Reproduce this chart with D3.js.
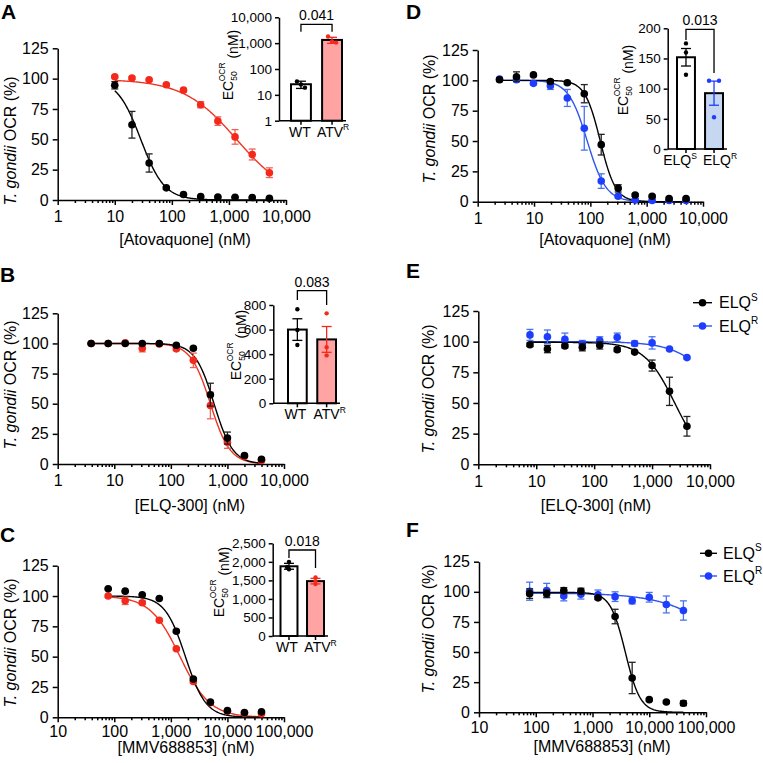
<!DOCTYPE html>
<html>
<head>
<meta charset="utf-8">
<script src="https://cdnjs.cloudflare.com/ajax/libs/d3/7.8.5/d3.min.js"></script>
<style>
body { margin: 0; background: #fff; }
svg text { font-family: Arial, "Liberation Sans", sans-serif; fill: #000; }
</style>
</head>
<body>
<script>
// ---- data ----
var yTicks = [0, 25, 50, 75, 100, 125];
var xTicks1 = [1, 10, 100, 1000, 10000];
var xTicks10 = [10, 100, 1000, 10000, 100000];

// A: atovaquone, WT vs ATV-R
var concA = [10, 20, 40, 80, 160, 320, 640, 1280, 2560, 5120];
var wtA = [94.5, 62, 30.5, 10, 4.5, 2.8, 2.5, 2.3, 2, 1.5];
var wtAerr = [3, 11, 7.5, 1, 1, 0.5, 0.5, 0.5, 0.5, 0.5];
var atvA = [101.5, 100.5, 99, 95, 90.5, 78.5, 65, 52, 37.5, 22.5];
var atvAerr = [1, 1, 1, 1, 1.5, 2.5, 3.5, 6, 4.5, 4];
var fitAwt = [100, 0, 28.5, 2.1];      // top, bottom, EC50, hill
var fitAatv = [99.5, 0, 1373, 0.93];

// B: ELQ-300, WT vs ATV-R
var concB = [3.9, 7.8, 15.6, 31.25, 62.5, 125, 250, 500, 1000, 2000, 4000];
var wtB = [100, 100, 100, 100, 100, 98.5, 96, 57.5, 21.5, 7, 4];
var wtBerr = [0.5, 0.5, 0.5, 0.5, 0.5, 1, 1, 9.5, 5, 1, 1];
var atvB = [100, 100, 100.5, 96, 99.5, 95.5, 86, 48.5, 18, 6.5, 3];
var atvBerr = [0.5, 0.5, 0.5, 3, 0.5, 1.5, 6, 11, 5, 1, 1];
var fitBwt = [100, 0, 580, 2.6];
var fitBatv = [100, 0, 500, 2.5];

// C: MMV688853, WT vs ATV-R
var concC = [78, 156, 312, 625, 1250, 2500, 5000, 10000, 20000, 40000];
var wtC = [106, 104, 101, 98, 71, 31.5, 12.5, 5.5, 4, 4.5];
var wtCerr = [0.5, 0.5, 0.5, 0.5, 1, 1, 1, 0.5, 0.5, 0.5];
var atvC = [100, 96, 94.5, 80, 56.5, 29.5, 12, 5, 3.5, 3];
var atvCerr = [1, 3, 1.5, 1, 1, 1.5, 1, 1, 1, 1];
var fitCwt = [100, 0, 1810, 2.4];
var fitCatv = [100, 0, 1453, 1.65];

// D: atovaquone, ELQ-S vs ELQ-R
var concD = [2.44, 4.88, 9.77, 19.5, 39, 78, 156, 312, 625, 1250, 2500, 5000];
var elqsD = [100.5, 103, 104.5, 99, 98, 89, 47, 11, 5.5, 4.5, 2.5, 2.5];
var elqsDerr = [1.5, 4, 1, 1.5, 1, 7.5, 8.5, 3, 1, 1, 1, 1];
var elqrD = [101, 100.5, 97.5, 95.5, 85.5, 60.5, 17, 4.5, 1.5, 1, 1, 1];
var elqrDerr = [1, 1.5, 1, 3, 7, 18, 6, 1.5, 1, 1, 0.5, 0.5];
var fitDs = [100, 0, 150, 3.2];
var fitDr = [100, 0, 88, 2.6];

// E: ELQ-300, ELQ-S vs ELQ-R
var concE = [7.8, 15.6, 31.25, 62.5, 125, 250, 500, 1000, 2000, 4000];
var elqsE = [97.5, 94, 96.5, 95.5, 97, 93.5, 91.5, 80.5, 59.5, 31];
var elqsEerr = [1.5, 3, 1.5, 3, 3, 1.5, 1, 4.5, 11.5, 8];
var elqrE = [105.5, 104, 102, 98, 101, 103.5, 98.5, 99, 94, 87];
var elqrEerr = [4.5, 5.5, 5, 3, 3, 3.5, 2, 5, 1, 1];
var fitEs = [99.5, 0, 2474, 1.65];
var fitEr = [100, 0, 19600, 1.2];

// F: MMV688853, ELQ-S vs ELQ-R
var concF = [78, 156, 312, 625, 1250, 2500, 5000, 10000, 20000, 40000];
var elqsF = [98.5, 98.5, 101, 100.5, 95, 79.5, 28.5, 10.5, 8.5, 7.5];
var elqsFerr = [4, 3, 2.5, 2.5, 1, 6, 13, 1, 1, 2];
var elqrF = [100.5, 101, 96.5, 98, 97.5, 96, 92.5, 95.5, 89.5, 84.5];
var elqrFerr = [7.5, 6, 4, 4, 4, 4, 2.5, 4, 7, 8];
var fitFs = [99.5, 0, 3793, 3.3];
var fitFr = [99, 0, 367000, 0.8];

// insets: EC50 OCR
var catsATV = [["WT", ""], ["ATV", "R"]];
var catsELQ = [["ELQ", "S"], ["ELQ", "R"]];
var ecAmean = [25.7, 1334];
var ecAsem = [8, 350];
var ecApts = [[33, 25, 19], [1800, 1150, 1050]];
var ecAticks = [1, 10, 100, 1000, 10000];
var ecBmean = [600, 520];
var ecBsem = [88, 105];
var ecBpts = [[765, 596, 474], [732, 456, 390]];
var ecBticks = [0, 200, 400, 600, 800];
var ecCmean = [1880, 1480];
var ecCsem = [80, 75];
var ecCpts = [[2000, 1860, 1800], [1580, 1480, 1400]];
var ecCticks = [0, 500, 1000, 1500, 2000, 2500];
var ecDmean = [152, 92.5];
var ecDsem = [14.5, 20];
var ecDpts = [[175, 160, 123], [113, 113, 52.5]];
var ecDticks = [0, 50, 100, 150, 200];
var pA = "0.041", pB = "0.083", pC = "0.018", pD = "0.013";

// ---- styling ----
var black = "#000000";
var red = { dot: "#f5291b", line: "#ee3522", err: "#ef6357", bar: "#ffa3a3" };
var blue = { dot: "#1e3dff", line: "#2c55ee", err: "#4a74ea", bar: "#c6d7f2" };
var blk = { dot: black, line: black, err: "#222", bar: "#ffffff" };

var svg = d3.select("body").append("svg").attr("width", 763).attr("height", 763);
var fmt = d3.format(",");

function hill(p, c) { return p[1] + (p[0] - p[1]) / (1 + Math.pow(c / p[2], p[3])); }

function supText(sel, base, sup, supSize) {
  sel.text(null);
  sel.append("tspan").text(base);
  if (sup) sel.append("tspan").attr("font-size", supSize).attr("dy", "-0.75em").text(sup);
}

function drawDose(p) {
  var g = svg.append("g");
  var x = d3.scaleLog().domain(p.xDomain).range(p.xRange);
  var y = d3.scaleLinear().domain([0, 125]).range(p.yRange);

  // axes
  var xa = g.append("g").attr("transform", "translate(0," + p.yRange[0] + ")")
    .call(d3.axisBottom(x).tickValues(p.xTicks).tickFormat(fmt).tickSizeInner(5).tickSizeOuter(0).tickPadding(p.tickPad));
  var minor = x.ticks().filter(function (d) { return Math.abs(Math.log10(d) % 1) > 1e-6; });
  g.append("g").attr("transform", "translate(0," + p.yRange[0] + ")")
    .call(d3.axisBottom(x).tickValues(minor).tickFormat("").tickSizeInner(3).tickSizeOuter(0))
    .select(".domain").remove();
  var ya = g.append("g").attr("transform", "translate(" + p.xRange[0] + ",0)")
    .call(d3.axisLeft(y).tickValues(yTicks).tickSizeInner(5).tickSizeOuter(0).tickPadding(4));
  g.selectAll(".domain, .tick line").attr("stroke", black).attr("stroke-width", 1.5);
  xa.selectAll("text").attr("font-size", 16).attr("font-family", null);
  ya.selectAll("text").attr("font-size", 16).attr("font-family", null);

  // titles
  g.append("text").attr("x", p.xTitleX).attr("y", p.yRange[0] + p.titleOff).attr("dy", "0.35em")
    .attr("text-anchor", "middle").attr("font-size", 16).text(p.xTitle);
  var yt = g.append("text").attr("transform", "translate(" + p.yTitleX + "," + p.yTitleY + ") rotate(-90)")
    .attr("dy", "0.35em").attr("text-anchor", "middle").attr("font-size", 16);
  yt.append("tspan").attr("font-style", "italic").text("T. gondii");
  yt.append("tspan").text(" OCR (%)");
  g.append("text").attr("x", p.lx).attr("y", p.ly).attr("font-size", 21).attr("font-weight", "bold").text(p.letter);

  // fitted curves
  p.series.forEach(function (s) {
    var lo = Math.log10(d3.min(s.conc)), hi = Math.log10(d3.max(s.conc));
    var xs = d3.range(0, 201).map(function (i) { return Math.pow(10, lo + (hi - lo) * i / 200); });
    g.append("path").datum(xs).attr("fill", "none").attr("stroke", s.col.line).attr("stroke-width", 1.4)
      .attr("d", d3.line().x(function (d) { return x(d); }).y(function (d) { return y(hill(s.fit, d)); }));
  });
  // error bars + points
  p.series.forEach(function (s) {
    var pts = s.conc.map(function (c, i) { return { c: c, m: s.mean[i], e: s.err[i] }; });
    var eb = g.append("g").attr("stroke", s.col.err).attr("stroke-width", 1.3);
    pts.forEach(function (d) {
      var cx = x(d.c);
      eb.append("line").attr("x1", cx).attr("x2", cx).attr("y1", y(d.m - d.e)).attr("y2", y(d.m + d.e));
      eb.append("line").attr("x1", cx - 3.5).attr("x2", cx + 3.5).attr("y1", y(d.m + d.e)).attr("y2", y(d.m + d.e));
      eb.append("line").attr("x1", cx - 3.5).attr("x2", cx + 3.5).attr("y1", y(d.m - d.e)).attr("y2", y(d.m - d.e));
    });
    g.append("g").selectAll("circle").data(pts).enter().append("circle")
      .attr("cx", function (d) { return x(d.c); }).attr("cy", function (d) { return y(d.m); })
      .attr("r", 3.8).attr("fill", s.col.dot);
  });

  // legend
  if (p.legend) {
    p.series.slice().reverse().forEach(function (s, i) {
      var ly = p.legend.y[i];
      g.append("line").attr("x1", p.legend.x0).attr("x2", p.legend.x1).attr("y1", ly).attr("y2", ly)
        .attr("stroke", s.col.line).attr("stroke-width", 1.4);
      g.append("circle").attr("cx", (p.legend.x0 + p.legend.x1) / 2).attr("cy", ly).attr("r", 3.8).attr("fill", s.col.dot);
      var t = g.append("text").attr("x", p.legend.tx).attr("y", ly).attr("dy", "0.35em").attr("font-size", 16);
      supText(t, s.name[0], s.name[1], 10);
    });
  }
}

function drawInset(p) {
  var g = svg.append("g");
  var y = p.log ? d3.scaleLog().domain(p.yDomain).range(p.yRange) : d3.scaleLinear().domain(p.yDomain).range(p.yRange);
  var xb = d3.scaleBand().domain([0, 1]).range(p.band).paddingInner(0.36);
  var base = p.yRange[0];
  var cols = [blk, p.col];

  // bars
  p.mean.forEach(function (m, i) {
    g.append("rect").attr("x", xb(i)).attr("y", y(m)).attr("width", xb.bandwidth()).attr("height", base - y(m))
      .attr("fill", cols[i].bar).attr("stroke", black).attr("stroke-width", 2);
  });
  // error bars and replicate points
  p.mean.forEach(function (m, i) {
    var cx = xb(i) + xb.bandwidth() / 2;
    var lo = p.log ? Math.max(m - p.sem[i], 1) : m - p.sem[i];
    var eg = g.append("g").attr("stroke", cols[i].dot).attr("stroke-width", 1.3);
    eg.append("line").attr("x1", cx).attr("x2", cx).attr("y1", y(lo)).attr("y2", y(m + p.sem[i]));
    [m + p.sem[i], lo].forEach(function (v) {
      eg.append("line").attr("x1", cx - 5).attr("x2", cx + 5).attr("y1", y(v)).attr("y2", y(v));
    });
    p.pts[i].forEach(function (v, k) {
      g.append("circle").attr("cx", cx + p.jitter[i][k]).attr("cy", y(v)).attr("r", 2.2).attr("fill", cols[i].dot);
    });
  });
  // axes
  var ya = g.append("g").attr("class", "ax").attr("transform", "translate(" + p.axisX + ",0)")
    .call(d3.axisLeft(y).tickValues(p.yTicks).tickFormat(fmt).tickSizeInner(4).tickSizeOuter(0).tickPadding(3));
  ya.selectAll("text").attr("font-size", 13.5).attr("font-family", null);
  g.append("line").attr("x1", p.axisX).attr("x2", p.band[1] + 4).attr("y1", base).attr("y2", base)
    .attr("stroke", black).attr("stroke-width", 1.5);
  var xa = g.append("g").attr("class", "ax").attr("transform", "translate(0," + base + ")")
    .call(d3.axisBottom(xb).tickSizeInner(4).tickSizeOuter(0).tickPadding(2));
  xa.select(".domain").remove();
  xa.selectAll("text").attr("font-size", 14).attr("font-family", null)
    .attr("dx", function (d) { return p.labelDx[d]; })
    .each(function (d) { supText(d3.select(this), p.cats[d][0], p.cats[d][1], 8.5); });
  g.selectAll(".ax .domain, .ax .tick line").attr("stroke", black).attr("stroke-width", 1.5);

  // y title EC50^OCR (nM)
  var t = g.append("text").attr("transform", "translate(" + p.titleX + "," + p.titleY + ") rotate(-90)")
    .attr("dy", "0.35em").attr("text-anchor", "middle").attr("font-size", 14);
  t.append("tspan").text("EC");
  t.append("tspan").attr("font-size", 8.5).attr("dy", "0.45em").text("50");
  t.append("tspan").attr("font-size", 8.5).attr("dx", "-10").attr("dy", "-1.4em").text("OCR");
  t.append("tspan").attr("dy", "0.95em").text(" (nM)");

  // significance bracket
  var c0 = xb(0) + xb.bandwidth() / 2, c1 = xb(1) + xb.bandwidth() / 2;
  g.append("path").attr("fill", "none").attr("stroke", black).attr("stroke-width", 1.3)
    .attr("d", "M" + c0 + "," + p.bracket[1] + "V" + p.bracket[0] + "H" + c1 + "V" + p.bracket[2]);
  g.append("text").attr("x", (c0 + c1) / 2).attr("y", p.bracket[0] - 9).attr("dy", "0.35em")
    .attr("text-anchor", "middle").attr("font-size", 14).text(p.pval);
}

var doses = [
  { letter: "A", lx: 1, ly: 19, xDomain: [1, 1e4], xTicks: xTicks1, xRange: [57.7, 286], yRange: [200, 48.3],
    tickPad: 6, titleOff: 39, xTitle: "[Atovaquone] (nM)", xTitleX: 185, yTitleX: 10, yTitleY: 141,
    series: [{ conc: concA, mean: atvA, err: atvAerr, fit: fitAatv, col: red },
             { conc: concA, mean: wtA, err: wtAerr, fit: fitAwt, col: blk }] },
  { letter: "B", lx: 0, ly: 282, xDomain: [1, 1e4], xTicks: xTicks1, xRange: [57.7, 284], yRange: [464, 313.3],
    tickPad: 6, titleOff: 41, xTitle: "[ELQ-300] (nM)", xTitleX: 190, yTitleX: 10, yTitleY: 385,
    series: [{ conc: concB, mean: atvB, err: atvBerr, fit: fitBatv, col: red },
             { conc: concB, mean: wtB, err: wtBerr, fit: fitBwt, col: blk }] },
  { letter: "C", lx: 0, ly: 542, xDomain: [10, 1e5], xTicks: xTicks10, xRange: [57.7, 284], yRange: [717.3, 565.7],
    tickPad: 3, titleOff: 30, xTitle: "[MMV688853] (nM)", xTitleX: 186, yTitleX: 10, yTitleY: 643,
    series: [{ conc: concC, mean: atvC, err: atvCerr, fit: fitCatv, col: red },
             { conc: concC, mean: wtC, err: wtCerr, fit: fitCwt, col: blk }] },
  { letter: "D", lx: 406, ly: 19, xDomain: [1, 1e4], xTicks: xTicks1, xRange: [477.7, 703], yRange: [201.7, 50],
    tickPad: 6, titleOff: 38, xTitle: "[Atovaquone] (nM)", xTitleX: 605, yTitleX: 429, yTitleY: 119,
    series: [{ conc: concD, mean: elqrD, err: elqrDerr, fit: fitDr, col: blue },
             { conc: concD, mean: elqsD, err: elqsDerr, fit: fitDs, col: blk }] },
  { letter: "E", lx: 406, ly: 278, xDomain: [1, 1e4], xTicks: xTicks1, xRange: [478.3, 710], yRange: [464.3, 311],
    tickPad: 6, titleOff: 41, xTitle: "[ELQ-300] (nM)", xTitleX: 596, yTitleX: 428, yTitleY: 389,
    legend: { x0: 693, x1: 712, tx: 719, y: [302.7, 326] },
    series: [{ conc: concE, mean: elqrE, err: elqrEerr, fit: fitEr, col: blue, name: ["ELQ", "R"] },
             { conc: concE, mean: elqsE, err: elqsEerr, fit: fitEs, col: blk, name: ["ELQ", "S"] }] },
  { letter: "F", lx: 406, ly: 537, xDomain: [10, 1e5], xTicks: xTicks10, xRange: [479, 706], yRange: [712.3, 561.7],
    tickPad: 4, titleOff: 34, xTitle: "[MMV688853] (nM)", xTitleX: 602, yTitleX: 428, yTitleY: 629,
    legend: { x0: 700, x1: 717, tx: 723, y: [553.3, 576] },
    series: [{ conc: concF, mean: elqrF, err: elqrFerr, fit: fitFr, col: blue, name: ["ELQ", "R"] },
             { conc: concF, mean: elqsF, err: elqsFerr, fit: fitFs, col: blk, name: ["ELQ", "S"] }] }
];
doses.forEach(drawDose);

var insets = [
  { log: true, yDomain: [1, 10000], yRange: [120.7, 17.3], yTicks: ecAticks, axisX: 279, band: [291, 342],
    mean: ecAmean, sem: ecAsem, pts: ecApts, jitter: [[-4, 0, 4], [-4, 0, 4]], cats: catsATV, col: red,
    labelDx: [-1, 1], titleX: 228, titleY: 65, bracket: [24.3, 31.7, 31.7], pval: pA },
  { log: false, yDomain: [0, 800], yRange: [403.3, 305], yTicks: ecBticks, axisX: 273.3, band: [288, 336],
    mean: ecBmean, sem: ecBsem, pts: ecBpts, jitter: [[0, 0, 0], [0, 0, 0]], cats: catsATV, col: red,
    labelDx: [-2, 3], titleX: 236, titleY: 345, bracket: [290.7, 300, 305], pval: pB },
  { log: false, yDomain: [0, 2500], yRange: [636, 543.3], yTicks: ecCticks, axisX: 272.7, band: [280.5, 324],
    mean: ecCmean, sem: ecCsem, pts: ecCpts, jitter: [[0, -2, 0], [0, 0, 0]], cats: catsATV, col: red,
    labelDx: [-2, 5], titleX: 219, titleY: 582, bracket: [550, 558, 568], pval: pC },
  { log: false, yDomain: [0, 200], yRange: [149, 28.3], yTicks: ecDticks, axisX: 667.7, band: [677, 723],
    mean: ecDmean, sem: ecDsem, pts: ecDpts, jitter: [[0, 0, 0], [-5, 5, 0]], cats: catsELQ, col: blue,
    labelDx: [-6, 6], titleX: 623, titleY: 80, bracket: [29.3, 40, 73], pval: pD }
];
insets.forEach(drawInset);
</script>
</body>
</html>
